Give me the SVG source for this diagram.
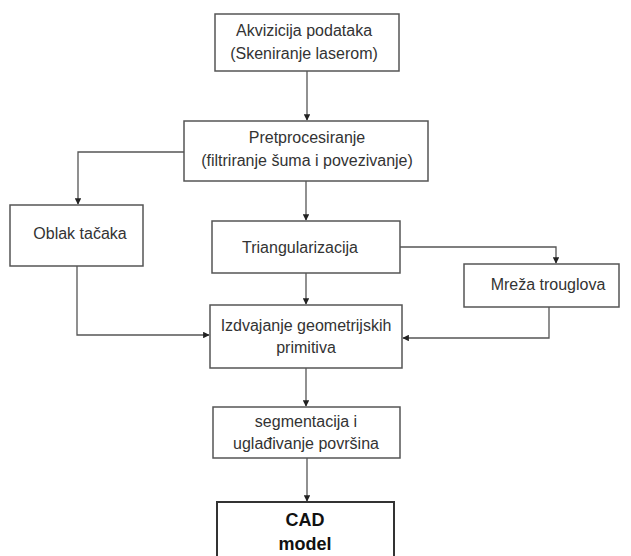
<svg xmlns="http://www.w3.org/2000/svg" width="631" height="556" viewBox="0 0 631 556">
<defs>
<marker id="ah" viewBox="0 0 10 10" refX="9" refY="5" markerWidth="5" markerHeight="5" orient="auto">
<path d="M0,0 L10,5 L0,10 z" fill="#222"/>
</marker>
<style>
.box{fill:#fff;stroke:#555;stroke-width:1.5}
.t{font-family:"Liberation Sans",Arial,sans-serif;font-size:16px;fill:#333;text-anchor:middle}
.b{font-family:"Liberation Sans",Arial,sans-serif;font-size:18px;font-weight:bold;fill:#111;text-anchor:middle}
.c{fill:none;stroke:#555;stroke-width:1.3;marker-end:url(#ah)}
</style>
</defs>
<rect width="631" height="556" fill="#fff"/>
<g id="connectors">
<path class="c" d="M307,71 V120"/>
<path class="c" d="M184,152 H78 V204"/>
<path class="c" d="M306,181 V220"/>
<path class="c" d="M400,247 H556 V263"/>
<path class="c" d="M306,273 V304"/>
<path class="c" d="M77,266 V335 H209"/>
<path class="c" d="M549,307 V338 H403"/>
<path class="c" d="M306,368 V406"/>
<path class="c" d="M307,458 V501"/>
</g>
<g id="n1"><rect class="box" x="215" y="14" width="184" height="57"/>
<text class="t" x="304" y="36">Akvizicija podataka</text>
<text class="t" x="304" y="59">(Skeniranje laserom)</text></g>
<g id="n2"><rect class="box" x="184" y="121" width="244" height="60"/>
<text class="t" x="307" y="143">Pretprocesiranje</text>
<text class="t" x="307" y="166">(filtriranje šuma i povezivanje)</text></g>
<g id="n3"><rect class="box" x="10" y="205" width="133" height="61"/>
<text class="t" x="80" y="239">Oblak tačaka</text></g>
<g id="n4"><rect class="box" x="212" y="221" width="188" height="52"/>
<text class="t" x="300" y="253">Triangularizacija</text></g>
<g id="n5"><rect class="box" x="464" y="264" width="155" height="43"/>
<text class="t" x="548" y="290">Mreža trouglova</text></g>
<g id="n6"><rect class="box" x="210" y="305" width="192" height="63"/>
<text class="t" x="306" y="331">Izdvajanje geometrijskih</text>
<text class="t" x="306" y="353">primitiva</text></g>
<g id="n7"><rect class="box" x="213" y="407" width="187" height="51"/>
<text class="t" x="306" y="427">segmentacija i</text>
<text class="t" x="306" y="449">uglađivanje površina</text></g>
<g id="n8"><rect class="box" x="217" y="502" width="177" height="60" style="stroke-width:2;stroke:#333"/>
<text class="b" x="305" y="526">CAD</text>
<text class="b" x="305" y="550">model</text></g>
</svg>
